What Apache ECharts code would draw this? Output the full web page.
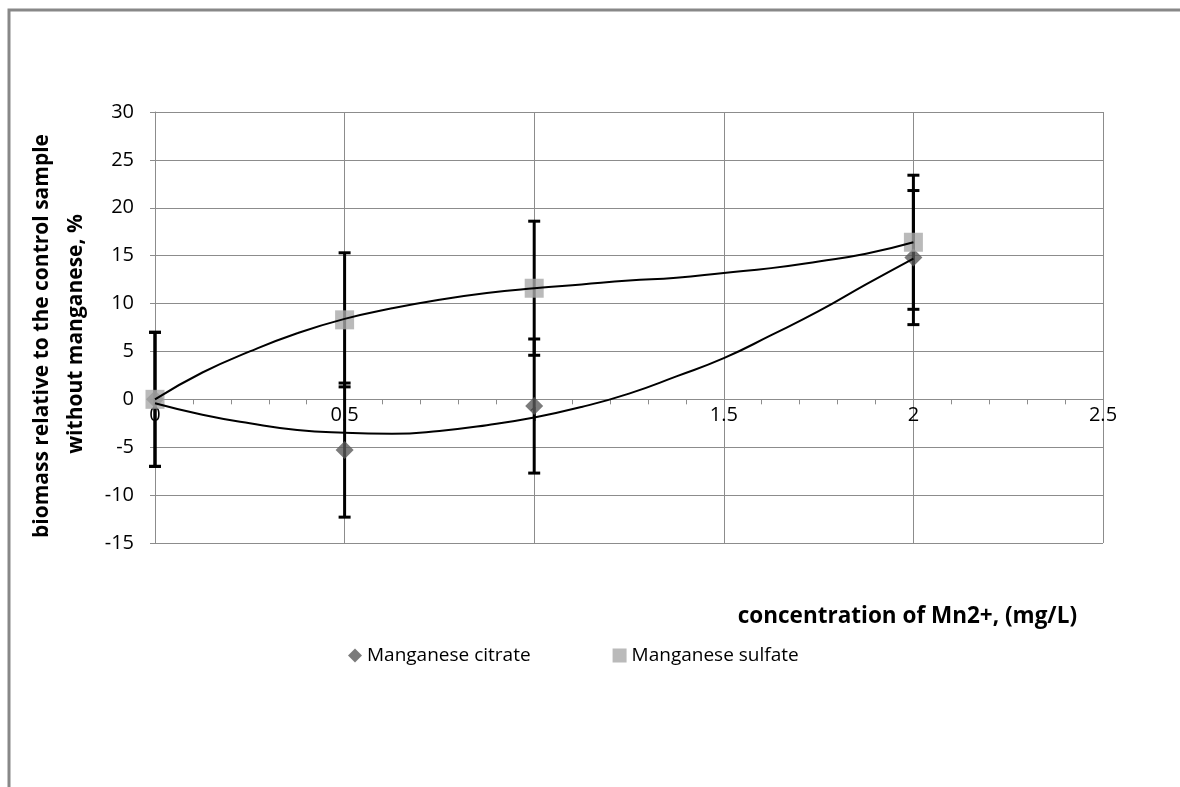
<!DOCTYPE html>
<html>
<head>
<meta charset="utf-8">
<script src="https://cdn.jsdelivr.net/npm/echarts@6/dist/echarts.min.js"></script>
<style>
  html, body { margin: 0; padding: 0; background: #fff; }
  #chart { width: 1180px; height: 787px; }
</style>
</head>
<body>
<div id="chart"></div>
<script>
// concentrations (mg/L)
const conc = [0, 0.5, 1, 2]
const citrate = [0, -5.3, -0.7, 14.8]
const sulfate = [0, 8.3, 11.6, 16.4]
const citrateErr = [7, 7, 7, 7]
const sulfateErr = [7, 7, 7, 7]
// trendline values
const trendX = [0, 0.125, 0.25, 0.375, 0.5, 0.625, 0.75, 0.875, 1, 1.125, 1.25, 1.375, 1.5, 1.625, 1.75, 1.875, 2]
const citrateTrend = [-0.4, -1.6, -2.5, -3.2, -3.5, -3.6, -3.3, -2.7, -1.9, -0.8, 0.6, 2.4, 4.3, 6.7, 9.2, 12.0, 14.7]
const sulfateTrend = [0, 2.8, 5.0, 6.9, 8.4, 9.5, 10.4, 11.1, 11.6, 12.0, 12.4, 12.7, 13.2, 13.7, 14.4, 15.2, 16.4]

const FONT = '"Open Sans", "Noto Sans", sans-serif'
const GRID_COLOR = '#8c8c8c'

function errData(vals, errs) {
  return conc.map((x, i) => [x, vals[i] - errs[i], vals[i] + errs[i]])
}

function renderErr(params, api) {
  const x = api.value(0)
  const lo = api.coord([x, api.value(1)])
  const hi = api.coord([x, api.value(2)])
  const cap = 6
  const style = { stroke: '#000', lineWidth: 3 }
  return {
    type: 'group',
    children: [
      { type: 'line', shape: { x1: lo[0], y1: lo[1], x2: hi[0], y2: hi[1] }, style },
      { type: 'line', shape: { x1: lo[0] - cap, y1: lo[1], x2: lo[0] + cap, y2: lo[1] }, style },
      { type: 'line', shape: { x1: hi[0] - cap, y1: hi[1], x2: hi[0] + cap, y2: hi[1] }, style }
    ]
  }
}

const chart = echarts.init(document.getElementById('chart'))
chart.setOption({
  backgroundColor: '#fff',
  animation: false,
  textStyle: { fontFamily: FONT },
  grid: { left: 155, right: 77, top: 112, bottom: 244 },
  legend: {
    left: 343,
    top: 641,
    itemGap: 82,
    itemWidth: 14,
    itemHeight: 14,
    textStyle: { fontSize: 19, color: '#000', fontFamily: FONT },
    data: [
      { name: 'Manganese citrate', icon: 'diamond' },
      { name: 'Manganese sulfate', icon: 'rect' }
    ]
  },
  xAxis: {
    type: 'value',
    min: 0,
    max: 2.5,
    interval: 0.5,
    axisLine: { onZero: true, lineStyle: { color: GRID_COLOR, width: 1 } },
    axisTick: { show: true, length: 5, lineStyle: { color: GRID_COLOR } },
    minorTick: { show: true, splitNumber: 5, length: 5, lineStyle: { color: GRID_COLOR } },
    splitLine: { show: true, lineStyle: { color: GRID_COLOR, width: 1 } },
    axisLabel: { fontSize: 20, color: '#000', margin: -138, fontFamily: FONT, showMinLabel: true, showMaxLabel: true }
  },
  yAxis: {
    type: 'value',
    min: -15,
    max: 30,
    interval: 5,
    axisLine: { show: true, lineStyle: { color: GRID_COLOR, width: 1 } },
    axisTick: { show: true, length: 5, lineStyle: { color: GRID_COLOR } },
    splitLine: { show: true, lineStyle: { color: GRID_COLOR, width: 1 } },
    axisLabel: { fontSize: 20, color: '#000', margin: 21, fontFamily: FONT }
  },
  graphic: [
    {
      type: 'polyline',
      shape: { points: [[9, 800], [9, 10], [1180, 10]] },
      style: { fill: 'none', stroke: '#888', lineWidth: 3 },
      silent: true
    },
    {
      type: 'text',
      x: 1077, y: 617,
      style: {
        text: 'concentration of Mn2+, (mg/L)',
        font: 'bold 22.5px ' + FONT,
        fill: '#000',
        align: 'right',
        verticalAlign: 'middle'
      }
    },
    {
      type: 'text',
      x: 42, y: 336,
      rotation: Math.PI / 2,
      style: {
        text: 'biomass relative to the control sample',
        font: 'bold 21px ' + FONT,
        fill: '#000',
        align: 'center',
        verticalAlign: 'middle'
      }
    },
    {
      type: 'text',
      x: 76, y: 334,
      rotation: Math.PI / 2,
      style: {
        text: 'without manganese, %',
        font: 'bold 21px ' + FONT,
        fill: '#000',
        align: 'center',
        verticalAlign: 'middle'
      }
    }
  ],
  series: [
    {
      name: 'citrate error',
      type: 'custom',
      renderItem: renderErr,
      data: errData(citrate, citrateErr),
      z: 1,
      silent: true
    },
    {
      name: 'sulfate error',
      type: 'custom',
      renderItem: renderErr,
      data: errData(sulfate, sulfateErr),
      z: 1,
      silent: true
    },
    {
      name: 'Manganese citrate',
      type: 'scatter',
      symbol: 'diamond',
      symbolSize: 18,
      itemStyle: { color: '#5a5a5a' },
      data: conc.map((x, i) => [x, citrate[i]]),
      z: 3
    },
    {
      name: 'Manganese sulfate',
      type: 'scatter',
      symbol: 'rect',
      symbolSize: 19,
      itemStyle: { color: '#a9a9a9' },
      data: conc.map((x, i) => [x, sulfate[i]]),
      z: 3
    },
    {
      name: 'citrate trend',
      type: 'line',
      smooth: true,
      showSymbol: false,
      lineStyle: { color: '#000', width: 2 },
      data: trendX.map((x, i) => [x, citrateTrend[i]]),
      z: 4,
      silent: true
    },
    {
      name: 'sulfate trend',
      type: 'line',
      smooth: true,
      showSymbol: false,
      lineStyle: { color: '#000', width: 2 },
      data: trendX.map((x, i) => [x, sulfateTrend[i]]),
      z: 4,
      silent: true
    }
  ]
})
</script>
</body>
</html>
